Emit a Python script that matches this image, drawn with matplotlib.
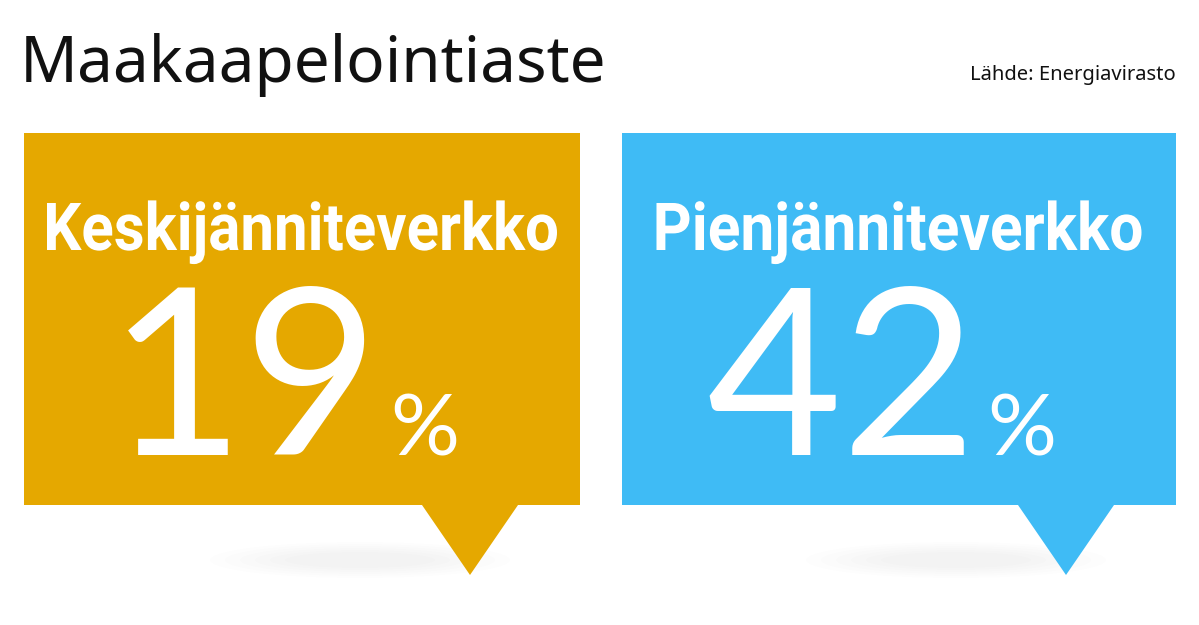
import matplotlib.pyplot as plt
from matplotlib.patches import Polygon, Ellipse, PathPatch
from matplotlib.textpath import TextPath
from matplotlib.font_manager import FontProperties
from matplotlib.transforms import Affine2D

title = "Maakaapelointiaste"
source = "Lähde: Energiavirasto"
labels = ["Keskijänniteverkko", "Pienjänniteverkko"]
values = [19, 42]
colors = ["#E5A800", "#3FBBF5"]

W, H = 1199, 625
fig = plt.figure(figsize=(W / 100, H / 100), dpi=100)
ax = fig.add_axes([0, 0, 1, 1])
ax.set_xlim(0, W)
ax.set_ylim(H, 0)
ax.axis("off")

ax.text(20, 65, title, fontsize=46, family=["Noto Sans", "DejaVu Sans"],
        va="center", ha="left", color="#111111")
ax.text(1176, 75, source, fontsize=14.5, family=["Noto Sans", "DejaVu Sans"],
        va="center", ha="right", color="#111111")

label_fp = FontProperties(family="Roboto", weight="bold")

boxes = [(24, 580), (622, 1176)]
for (x0, x1), lab, val, col in zip(boxes, labels, values, colors):
    y0, y1 = 133, 505
    tx = x1 - 110
    # soft shadow under the tail
    for k in range(6):
        ax.add_patch(Ellipse((tx - 110, 560), 300 - 30 * k, 36 - 4 * k,
                             color="#000000", alpha=0.007, lw=0))
    ax.add_patch(Polygon([(x0, y0), (x1, y0), (x1, y1), (tx + 48, y1),
                          (tx, 575), (tx - 48, y1), (x0, y1)],
                         closed=True, color=col, lw=0))
    cx = (x0 + x1) / 2

    # condensed bold label: scale a text path to the measured box
    tp = TextPath((0, 0), lab, size=100, prop=label_fp)
    bb = tp.get_extents()
    cap = TextPath((0, 0), "K", size=100, prop=label_fp).get_extents().height
    target_w = 510 if val == values[0] else 485
    sx = target_w / bb.width
    sy = 47 / cap
    tr = Affine2D().translate(-bb.x0 - bb.width / 2, 0).scale(sx, -sy) \
        .translate(cx, 250)
    ax.add_patch(PathPatch(tr.transform_path(tp), color="white", lw=0))

    ax.text(cx + 78, 455, str(val), fontsize=168, fontweight="normal",
            color="white", family=["Lato", "DejaVu Sans"],
            ha="right", va="baseline")
    ax.text(cx + 88, 455, "%", fontsize=62, fontweight="normal",
            color="white", family=["Lato", "DejaVu Sans"],
            ha="left", va="baseline")

fig.savefig("out.png", dpi=100)
